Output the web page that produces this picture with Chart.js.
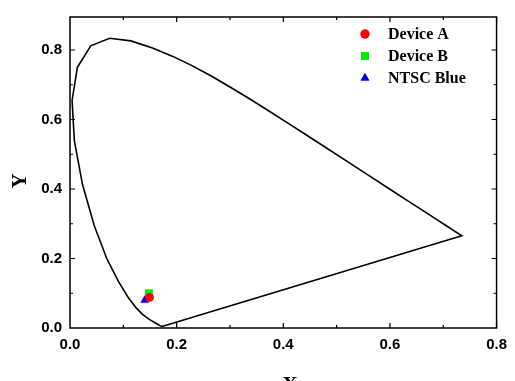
<!DOCTYPE html>
<html>
<head>
<meta charset="utf-8">
<script src="https://cdn.jsdelivr.net/npm/chart.js@4"></script>
<style>
  html, body { margin: 0; padding: 0; background: #fff; }
  canvas { display: block; }
</style>
</head>
<body>
<canvas id="cieChart" width="515" height="381"></canvas>
<script>
// CIE 1931 spectral locus (x, y), 380 -> 700 nm, closed by the purple line
const locusX = [0.1741, 0.1738, 0.1733, 0.1726, 0.1714, 0.1689, 0.1644, 0.1611, 0.1566, 0.1510, 0.1440, 0.1355,
  0.1241, 0.1096, 0.0913, 0.0687, 0.0454, 0.0235, 0.0082, 0.0039, 0.0139, 0.0389, 0.0743, 0.1142, 0.1547,
  0.1929, 0.2296, 0.2658, 0.3016, 0.3373, 0.3731, 0.4087, 0.4441, 0.4788, 0.5125, 0.5448, 0.5752, 0.6029,
  0.6270, 0.6482, 0.6658, 0.6801, 0.6915, 0.7006, 0.7079, 0.7140, 0.7190, 0.7230, 0.7260, 0.7300, 0.7347]
const locusY = [0.0050, 0.0049, 0.0048, 0.0048, 0.0051, 0.0069, 0.0109, 0.0138, 0.0177, 0.0227, 0.0297, 0.0399,
  0.0578, 0.0868, 0.1327, 0.2007, 0.2950, 0.4127, 0.5384, 0.6548, 0.7502, 0.8120, 0.8338, 0.8262, 0.8059,
  0.7816, 0.7543, 0.7243, 0.6923, 0.6589, 0.6245, 0.5896, 0.5547, 0.5202, 0.4866, 0.4544, 0.4242, 0.3965,
  0.3725, 0.3514, 0.3340, 0.3197, 0.3083, 0.2993, 0.2920, 0.2859, 0.2809, 0.2770, 0.2740, 0.2700, 0.2653]

const seriesNames = ['Device A', 'Device B', 'NTSC Blue']
const seriesX = [0.149, 0.148, 0.140]
const seriesY = [0.088, 0.100, 0.080]
const seriesColors = ['#ff0000', '#00ee00', '#0000ff']
const seriesShapes = ['circle', 'rect', 'triangle']
const seriesSizes = [4.5, 5.6, 5]

const xTicks = [0, 0.2, 0.4, 0.6, 0.8]
const yTicks = [0, 0.2, 0.4, 0.6, 0.8]

const locus = locusX.map((x, i) => ({ x: x, y: locusY[i] }))
locus.push(locus[0])

const tickFont = { family: 'Liberation Sans, Arial, sans-serif', size: 15, weight: 'bold' }
const serifBold = 'bold 16px "Liberation Serif", "Times New Roman", serif'

const frame = {
  id: 'frame',
  afterDraw(chart) {
    const { ctx, chartArea: a, scales } = chart
    ctx.save()
    ctx.strokeStyle = '#000'
    ctx.lineWidth = 1.5
    ctx.strokeRect(a.left, a.top, a.right - a.left, a.bottom - a.top)

    ctx.lineWidth = 1.2
    for (let v = 0.1; v < 0.8; v += 0.1) {
      const len = Math.round(v * 10) % 2 === 0 ? 5 : 3
      const px = scales.x.getPixelForValue(v)
      ctx.beginPath()
      ctx.moveTo(px, a.bottom); ctx.lineTo(px, a.bottom - len)
      ctx.moveTo(px, a.top); ctx.lineTo(px, a.top + len)
      ctx.stroke()
    }
    for (let v = 0.1; v < 0.89; v += 0.1) {
      const len = Math.round(v * 10) % 2 === 0 ? 5 : 3
      const py = scales.y.getPixelForValue(v)
      ctx.beginPath()
      ctx.moveTo(a.left, py); ctx.lineTo(a.left + len, py)
      ctx.moveTo(a.right, py); ctx.lineTo(a.right - len, py)
      ctx.stroke()
    }

    // axis titles
    ctx.fillStyle = '#000'
    ctx.font = 'bold 21px "Liberation Serif", "Times New Roman", serif'
    ctx.textAlign = 'center'
    ctx.textBaseline = 'alphabetic'
    ctx.fillText('X', 290, 391)
    ctx.save()
    ctx.translate(26, 181)
    ctx.rotate(-Math.PI / 2)
    ctx.fillText('Y', 0, 0)
    ctx.restore()

    // legend
    ctx.font = serifBold
    ctx.textAlign = 'left'
    seriesNames.forEach((name, i) => {
      const y = 34 + i * 22
      ctx.fillStyle = seriesColors[i]
      Chart.helpers.drawPoint(ctx, {
        pointStyle: seriesShapes[i], radius: seriesSizes[i], rotation: 0, borderWidth: 0
      }, 365, y)
      ctx.fill()
      ctx.fillStyle = '#000'
      ctx.fillText(name, 388, y + 5)
    })
    ctx.restore()
  }
}

const datasets = seriesNames.map((name, i) => ({
  label: name,
  data: [{ x: seriesX[i], y: seriesY[i] }],
  pointStyle: seriesShapes[i],
  pointRadius: seriesSizes[i],
  backgroundColor: seriesColors[i],
  borderColor: seriesColors[i],
  borderWidth: 0
}))
datasets.push({
  label: 'locus',
  data: locus,
  showLine: true,
  borderColor: '#000',
  borderWidth: 1.6,
  pointRadius: 0,
  tension: 0
})

new Chart(document.getElementById('cieChart'), {
  type: 'scatter',
  data: { datasets: datasets },
  options: {
    responsive: false,
    devicePixelRatio: 1,
    animation: false,
    layout: { padding: { left: 0, right: 13, top: 10, bottom: 0 } },
    plugins: { legend: { display: false }, tooltip: { enabled: false } },
    scales: {
      x: {
        type: 'linear', min: 0, max: 0.8,
        grid: { display: false, drawTicks: false },
        border: { display: false },
        afterFit: s => { s.height = 53 },
        afterBuildTicks: s => { s.ticks = xTicks.map(v => ({ value: v })) },
        ticks: { font: tickFont, color: '#000', padding: 8, maxRotation: 0, callback: v => v.toFixed(1) }
      },
      y: {
        type: 'linear', min: 0, max: 0.895,
        grid: { display: false, drawTicks: false },
        border: { display: false },
        afterFit: s => { s.width = 70 },
        afterBuildTicks: s => { s.ticks = yTicks.map(v => ({ value: v })) },
        ticks: { font: tickFont, color: '#000', padding: 8, callback: v => v.toFixed(1) }
      }
    }
  },
  plugins: [frame]
})
</script>
</body>
</html>
